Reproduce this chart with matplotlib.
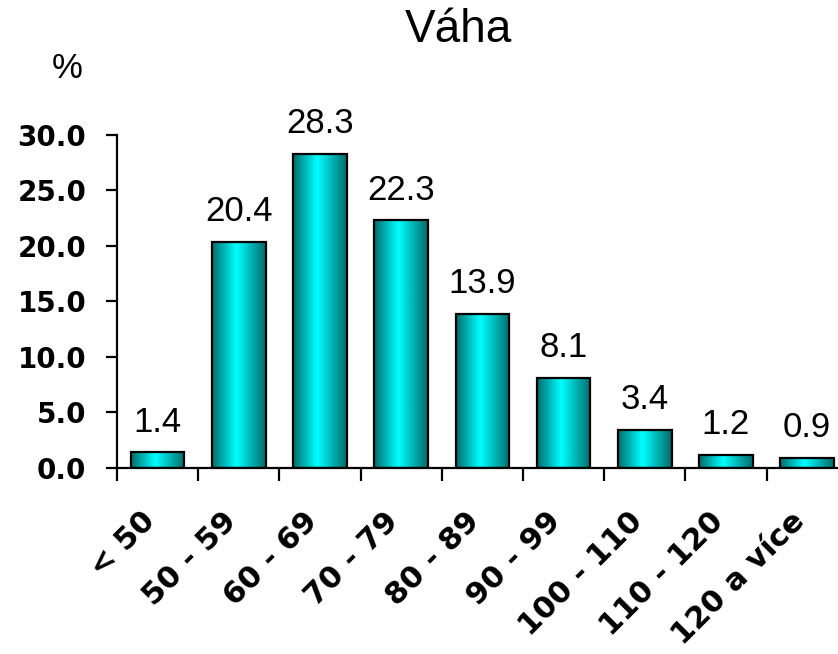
import numpy as np
import matplotlib
matplotlib.use("Agg")
import matplotlib.pyplot as plt
import matplotlib.transforms as mtransforms
from matplotlib.colors import LinearSegmentedColormap

# ── Datos ─────────────────────────────────────────────────────────────────────
kategorie = ["< 50", "50 - 59", "60 - 69", "70 - 79", "80 - 89",
             "90 - 99", "100 - 110", "110 - 120", "120 a více"]
hodnoty = [1.4, 20.4, 28.3, 22.3, 13.9, 8.1, 3.4, 1.2, 0.9]
y_ticks = [0, 5, 10, 15, 20, 25, 30]

# ── Figura ────────────────────────────────────────────────────────────────────
fig = plt.figure(figsize=(8.38, 6.54), dpi=100)
ax = fig.add_axes([0.1396, 0.2844, 0.872, 0.5092])

x = np.arange(len(kategorie))
bars = ax.bar(x, hodnoty, width=0.66, facecolor="none",
              edgecolor="black", linewidth=1.6, zorder=3)

# degradado horizontal tipo "cilindro" dentro de cada barra
cmap = LinearSegmentedColormap.from_list(
    "teal", [(0.0, "#006b6b"), (0.45, "#00ffff"), (1.0, "#006b6b")])
grad = np.linspace(0, 1, 256).reshape(1, -1)
for b in bars:
    x0, w, h = b.get_x(), b.get_width(), b.get_height()
    im = ax.imshow(grad, cmap=cmap, aspect="auto", extent=[x0, x0 + w, 0, h],
                   zorder=2, interpolation="bicubic")
    im.set_clip_path(b)

ax.set_xlim(-0.5, len(kategorie) - 0.5)
ax.set_ylim(0, 30)

# etiquetas de valor
for xi, v in zip(x, hodnoty):
    ax.annotate(f"{v:.1f}", (xi, v), xytext=(0, 10), textcoords="offset points",
                ha="center", va="bottom", fontsize=25, family="Liberation Sans")

# ejes
for s in ["top", "right"]:
    ax.spines[s].set_visible(False)
for s in ["left", "bottom"]:
    ax.spines[s].set_linewidth(1.6)

ax.set_yticks(y_ticks)
ax.set_yticklabels([f"{t:.1f}" for t in y_ticks], fontsize=20,
                   fontweight="bold", family="DejaVu Sans")
ax.tick_params(axis="y", direction="out", length=8, width=1.6, pad=14)

# marcas del eje x en los límites entre categorías
ax.set_xticks(np.arange(len(kategorie) + 1) - 0.5, minor=False)
ax.set_xticklabels([])
ax.tick_params(axis="x", which="major", direction="out", length=9, width=1.6)
ax.set_xticks(x, minor=True)
ax.set_xticklabels(kategorie, minor=True, rotation=45, ha="right",
                   va="center", rotation_mode="anchor", fontsize=22,
                   fontweight="bold", family="DejaVu Sans")
ax.tick_params(axis="x", which="minor", length=0, pad=35)
posun = mtransforms.ScaledTranslation(-7 / 100, 0, fig.dpi_scale_trans)
for lbl in ax.get_xticklabels(minor=True):
    lbl.set_transform(lbl.get_transform() + posun)

fig.text(458 / 838, 1 - 30 / 654, "Váha", ha="center", va="center",
         fontsize=33, family="Liberation Sans")
fig.text(67 / 838, 1 - 69 / 654, "%", ha="center", va="center",
         fontsize=25, family="Liberation Sans")

fig.savefig("out.png", dpi=100)
